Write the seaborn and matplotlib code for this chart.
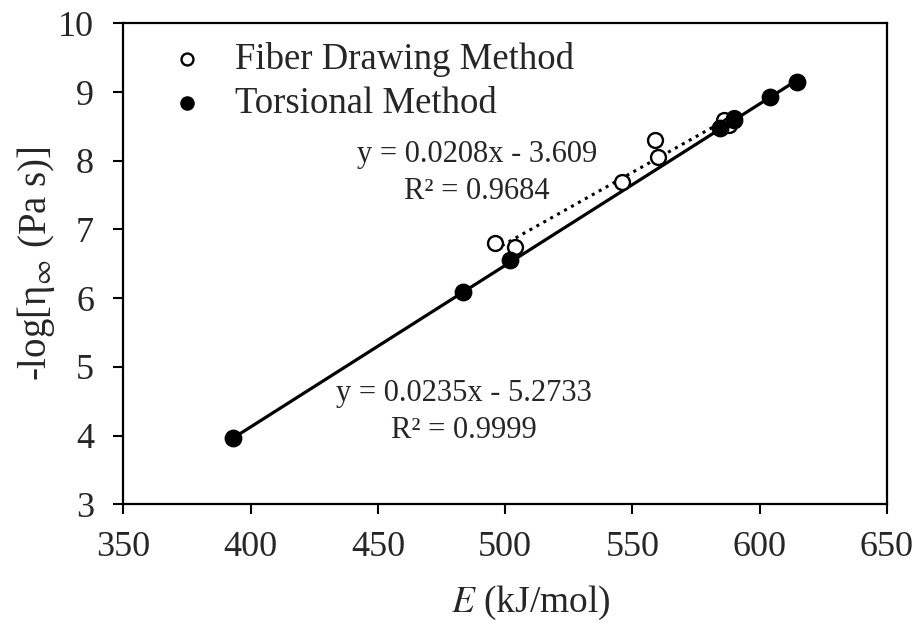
import numpy as np
import pandas as pd
import seaborn as sns
import matplotlib
matplotlib.use("Agg")
import matplotlib.pyplot as plt

# values
fiber_E = [496, 504, 546, 559, 560, 586, 588, 590]
fiber_logeta = [6.80, 6.75, 7.69, 8.30, 8.06, 8.60, 8.52, 8.62]
tors_E = [393, 483.5, 502, 584.5, 590, 604, 614.5]
tors_logeta = [3.96, 6.09, 6.56, 8.47, 8.60, 8.93, 9.14]

# trend line equations printed on the chart
fiber_fit = (0.0208, -3.609)
tors_fit = (0.0235, -5.2733)
fiber_eq = ["y = 0.0208x - 3.609", "R² = 0.9684"]
tors_eq = ["y = 0.0235x - 5.2733", "R² = 0.9999"]

x_ticks = [350, 400, 450, 500, 550, 600, 650]
y_ticks = [3, 4, 5, 6, 7, 8, 9, 10]

sns.set_style("ticks")
plt.rcParams["font.family"] = ["Liberation Serif", "DejaVu Serif"]
plt.rcParams["mathtext.fontset"] = "stix"

fig = plt.figure(figsize=(9.2, 6.29), dpi=100)
ax = fig.add_axes([0.134, 0.198, 0.830, 0.765])

# trend lines from min to max of each series
tx = np.array([min(tors_E), max(tors_E)])
fx = np.array([min(fiber_E), max(fiber_E)])
sns.lineplot(x=tx, y=tors_fit[0] * tx + tors_fit[1], ax=ax, color="black",
             linewidth=2.3, zorder=2)
sns.lineplot(x=fx, y=fiber_fit[0] * fx + fiber_fit[1], ax=ax, color="black",
             linewidth=2.2, linestyle=(0, (1, 1.6)), zorder=2)

sns.scatterplot(x=fiber_E, y=fiber_logeta, ax=ax, marker="o", s=115,
                facecolor="white", edgecolor="black", linewidth=1.7,
                label="Fiber Drawing Method", zorder=3)
sns.scatterplot(x=tors_E, y=tors_logeta, ax=ax, marker="o", s=140,
                color="black", edgecolor="black", linewidth=1,
                label="Torsional Method", zorder=4)

ax.text(489, 8.09, fiber_eq[0], ha="center", va="center", fontsize=22)
ax.text(489, 7.55, fiber_eq[1], ha="center", va="center", fontsize=22)
ax.text(484, 4.62, tors_eq[0], ha="center", va="center", fontsize=22)
ax.text(484, 4.08, tors_eq[1], ha="center", va="center", fontsize=22)

ax.set_xlim(350, 650)
ax.set_ylim(3, 10)
ax.set_xticks(x_ticks)
ax.set_yticks(y_ticks)
ax.tick_params(labelsize=26, width=1.5, length=7, direction="out", color="black")
ax.tick_params(axis="x", pad=12)
ax.tick_params(axis="y", pad=14)
for side in ["left", "bottom", "right", "top"]:
    ax.spines[side].set_linewidth(1.6)
    ax.spines[side].set_color("black")
ax.set_xlabel("$E$ (kJ/mol)", fontsize=27, labelpad=14, x=0.534)
ax.set_ylabel(r"-log[η$_\infty$ (Pa s)]", fontsize=28, labelpad=1)

leg = ax.legend(loc="upper left", bbox_to_anchor=(0.002, 1.015), frameon=False,
                fontsize=26.5, handletextpad=0.3, labelspacing=0.26,
                markerscale=0.8, borderaxespad=0.3)

fig.savefig("out.png", dpi=100)
